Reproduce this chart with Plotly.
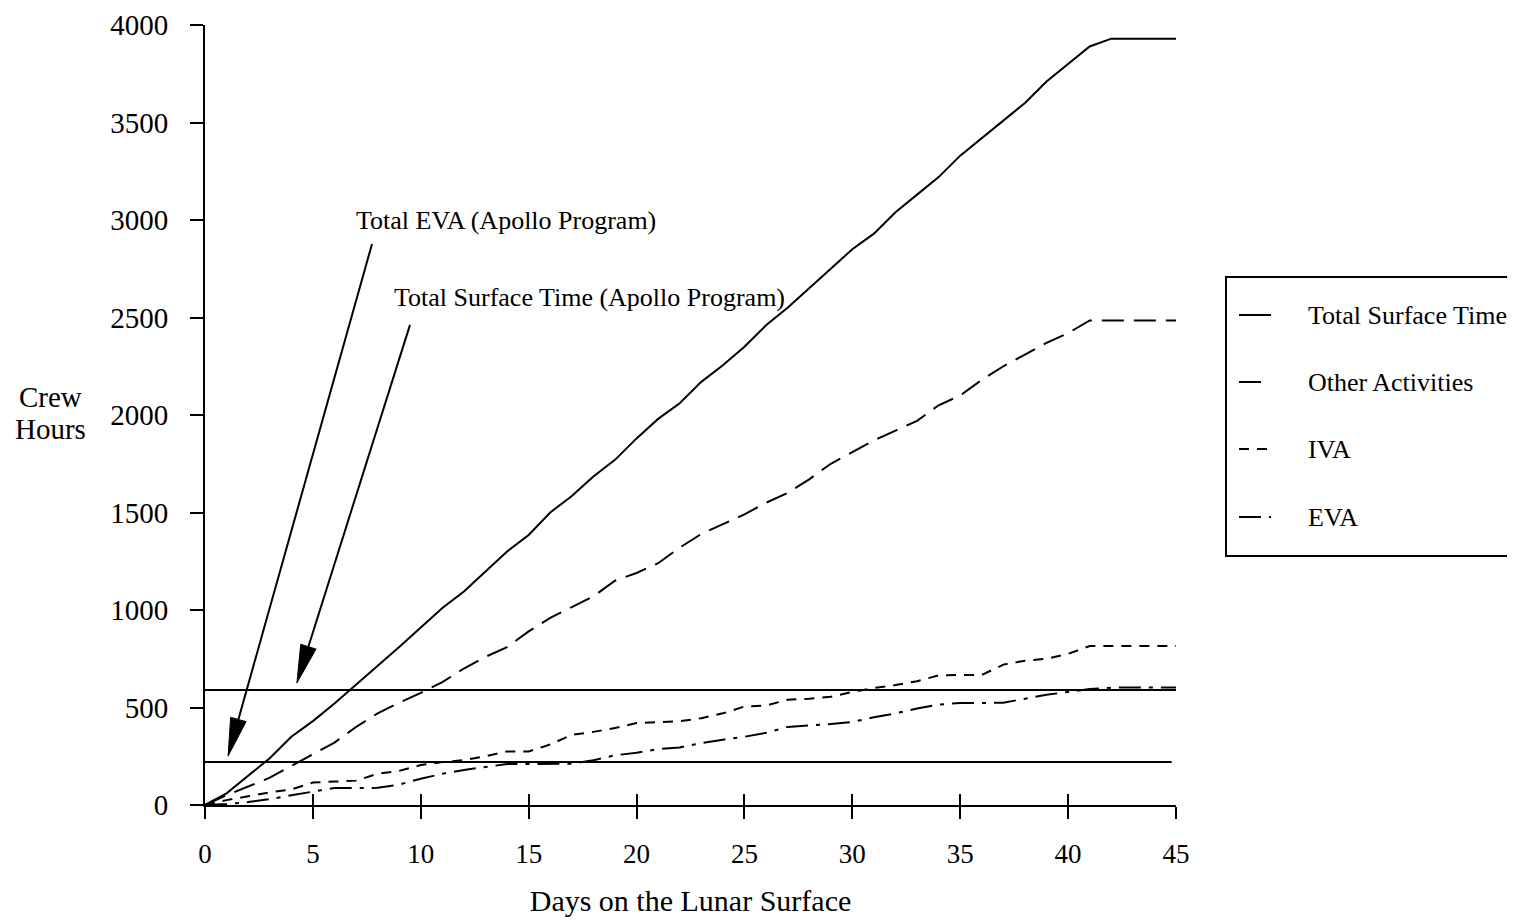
import plotly.graph_objects as go
import math

# ---------------- data ----------------
days = list(range(0, 46))
total_surface = [0, 60, 150, 240, 350, 430, 520, 615, 715, 810,
                 910, 1010, 1095, 1200, 1300, 1385, 1500, 1585, 1685, 1770,
                 1880, 1980, 2060, 2170, 2255, 2350, 2460, 2550, 2650, 2750,
                 2850, 2930, 3040, 3130, 3220, 3330, 3420, 3510, 3600, 3710,
                 3800, 3890, 3930, 3930, 3930, 3930]
other_activities = [0, 50, 95, 140, 200, 260, 320, 400, 470, 525,
                    575, 630, 700, 760, 810, 890, 960, 1015, 1070, 1150,
                    1190, 1240, 1320, 1390, 1440, 1490, 1550, 1600, 1670, 1750,
                    1810, 1870, 1920, 1970, 2050, 2100, 2180, 2250, 2310, 2370,
                    2420, 2485, 2485, 2485, 2485, 2485]
iva = [0, 25, 45, 65, 80, 115, 120, 125, 160, 175,
       205, 220, 230, 250, 275, 275, 310, 360, 375, 395,
       420, 425, 430, 445, 470, 505, 510, 540, 545, 555,
       580, 600, 615, 635, 665, 667, 667, 720, 740, 750,
       775, 815, 815, 815, 815, 815]
eva = [0, 5, 15, 30, 50, 68, 87, 87, 88, 105,
       135, 160, 180, 195, 210, 210, 210, 212, 230, 255,
       268, 287, 295, 318, 335, 350, 370, 400, 408, 415,
       426, 450, 470, 495, 515, 523, 523, 525, 545, 565,
       580, 595, 602, 602, 602, 602]

apollo_surface_total = 590   # Total Surface Time (Apollo Program)
apollo_eva_total = 220       # Total EVA (Apollo Program)
ref_x_surface = [0, 45]
ref_x_eva = [0, 44.8]

series_names = ["Total Surface Time", "Other Activities", "IVA", "EVA"]
x_tick_vals = [0, 5, 10, 15, 20, 25, 30, 35, 40, 45]
y_tick_vals = [0, 500, 1000, 1500, 2000, 2500, 3000, 3500, 4000]

# ---------------- layout geometry ----------------
PAGE_OFF = 8                      # default body margin of the html page
W, H = 1515 - PAGE_OFF, 924 - PAGE_OFF
PLOT_L, PLOT_T = 205, 25          # plot area origin in screenshot pixels
PW, PH = 971, 780
ML, MT = PLOT_L - PAGE_OFF, PLOT_T - PAGE_OFF
MR, MB = W - ML - PW, H - MT - PH
X_RANGE = [0, 45]
Y_RANGE = [0, 4000]
PXD = PW / (X_RANGE[1] - X_RANGE[0])
PXH = PH / (Y_RANGE[1] - Y_RANGE[0])


def px_to_paper_x(px):
    return (px - PLOT_L) / PW


def px_to_paper_y(py):
    return (PLOT_T + PH - py) / PH


FONT = "Liberation Serif, Times New Roman, serif"
BLACK = "#000000"
dashes = ["solid", "22px,10px", "10px,8px", "22px,8px,4px,8px"]
values = [total_surface, other_activities, iva, eva]

fig = go.Figure()

for name, vals, dash in zip(series_names, values, dashes):
    fig.add_trace(go.Scatter(
        x=days, y=vals, mode="lines", name=name,
        line=dict(color=BLACK, width=2, dash=dash),
        showlegend=False, hoverinfo="skip"))

fig.add_trace(go.Scatter(x=ref_x_surface, y=[apollo_surface_total] * 2, mode="lines",
                         line=dict(color=BLACK, width=2), showlegend=False, hoverinfo="skip"))
fig.add_trace(go.Scatter(x=ref_x_eva, y=[apollo_eva_total] * 2, mode="lines",
                         line=dict(color=BLACK, width=2), showlegend=False, hoverinfo="skip"))

# invisible trace for the overlay axis that draws inward ticks
fig.add_trace(go.Scatter(x=[0, 45], y=[0, 0], xaxis="x2", mode="lines",
                         line=dict(width=0), showlegend=False, hoverinfo="skip"))


# ---------------- arrows ----------------
def arrow(tail, tip, L=38, w=8):
    tx, ty = tail[0] * PXD, tail[1] * PXH
    px, py = tip[0] * PXD, tip[1] * PXH
    dx, dy = px - tx, py - ty
    n = math.hypot(dx, dy)
    ux, uy = dx / n, dy / n
    bx, by = px - ux * L, py - uy * L
    nx, ny = -uy, ux
    p1 = ((bx + nx * w) / PXD, (by + ny * w) / PXH)
    p2 = ((bx - nx * w) / PXD, (by - ny * w) / PXH)
    base = (bx / PXD, by / PXH)
    return [
        dict(type="line", xref="x", yref="y", x0=tail[0], y0=tail[1],
             x1=base[0], y1=base[1], line=dict(color=BLACK, width=2)),
        dict(type="path", xref="x", yref="y",
             path=f"M {tip[0]} {tip[1]} L {p1[0]} {p1[1]} L {p2[0]} {p2[1]} Z",
             fillcolor=BLACK, line=dict(color=BLACK, width=1)),
    ]


shapes = []
shapes += arrow((7.74, 2877), (1.07, 251))
shapes += arrow((9.50, 2462), (4.26, 626))

annotations = [
    dict(x=13.95, y=2995, xref="x", yref="y", text="Total EVA (Apollo Program)",
         showarrow=False, xanchor="center", yanchor="middle",
         font=dict(family=FONT, size=26, color=BLACK)),
    dict(x=17.84, y=2605, xref="x", yref="y", text="Total Surface Time (Apollo Program)",
         showarrow=False, xanchor="center", yanchor="middle",
         font=dict(family=FONT, size=26, color=BLACK)),
    dict(x=px_to_paper_x(50), y=px_to_paper_y(397), xref="paper", yref="paper",
         text="Crew", showarrow=False, xanchor="center", yanchor="middle",
         font=dict(family=FONT, size=29, color=BLACK)),
    dict(x=px_to_paper_x(50), y=px_to_paper_y(429), xref="paper", yref="paper",
         text="Hours", showarrow=False, xanchor="center", yanchor="middle",
         font=dict(family=FONT, size=29, color=BLACK)),
]

# ---------------- legend (box, samples, labels) ----------------
shapes.append(dict(type="rect", xref="paper", yref="paper",
                   x0=px_to_paper_x(1226), x1=px_to_paper_x(1530),
                   y0=px_to_paper_y(556), y1=px_to_paper_y(277),
                   line=dict(color=BLACK, width=2), fillcolor="rgba(0,0,0,0)"))
legend_rows = [315, 382, 449, 517]
for name, dash, row in zip(series_names, dashes, legend_rows):
    shapes.append(dict(type="line", xref="paper", yref="paper",
                       x0=px_to_paper_x(1239), x1=px_to_paper_x(1271),
                       y0=px_to_paper_y(row), y1=px_to_paper_y(row),
                       line=dict(color=BLACK, width=2, dash=dash)))
    annotations.append(dict(x=px_to_paper_x(1306), y=px_to_paper_y(row),
                            xref="paper", yref="paper", text=name, showarrow=False,
                            xanchor="left", yanchor="middle",
                            font=dict(family=FONT, size=26, color=BLACK)))

fig.update_layout(
    width=W, height=H,
    margin=dict(l=ML, r=MR, t=MT, b=MB, autoexpand=False),
    paper_bgcolor="white", plot_bgcolor="white",
    font=dict(family=FONT, color=BLACK, size=26),
    showlegend=False,
    xaxis=dict(
        range=X_RANGE, tickvals=x_tick_vals, ticktext=[str(v) for v in x_tick_vals],
        showgrid=False, zeroline=False, showline=True, linecolor=BLACK, linewidth=2,
        ticks="outside", ticklen=12, tickwidth=2, tickcolor=BLACK,
        tickfont=dict(family=FONT, size=27, color=BLACK), ticklabelstandoff=12,
        title=dict(text="Days on the Lunar Surface", standoff=22,
                   font=dict(family=FONT, size=30, color=BLACK)),
        fixedrange=True,
    ),
    xaxis2=dict(
        range=X_RANGE, tickvals=x_tick_vals, overlaying="x", anchor="y", side="bottom",
        showgrid=False, zeroline=False, showline=False, showticklabels=False,
        ticks="inside", ticklen=11, tickwidth=2, tickcolor=BLACK,
    ),
    yaxis=dict(
        range=Y_RANGE, tickvals=y_tick_vals, ticktext=[str(v) for v in y_tick_vals],
        showgrid=False, zeroline=False, showline=True, linecolor=BLACK, linewidth=2,
        ticks="outside", ticklen=13, tickwidth=2, tickcolor=BLACK,
        tickfont=dict(family=FONT, size=29, color=BLACK), ticklabelstandoff=16,
        fixedrange=True,
    ),
    shapes=shapes,
    annotations=annotations,
)

fig.write_html("out.html")
